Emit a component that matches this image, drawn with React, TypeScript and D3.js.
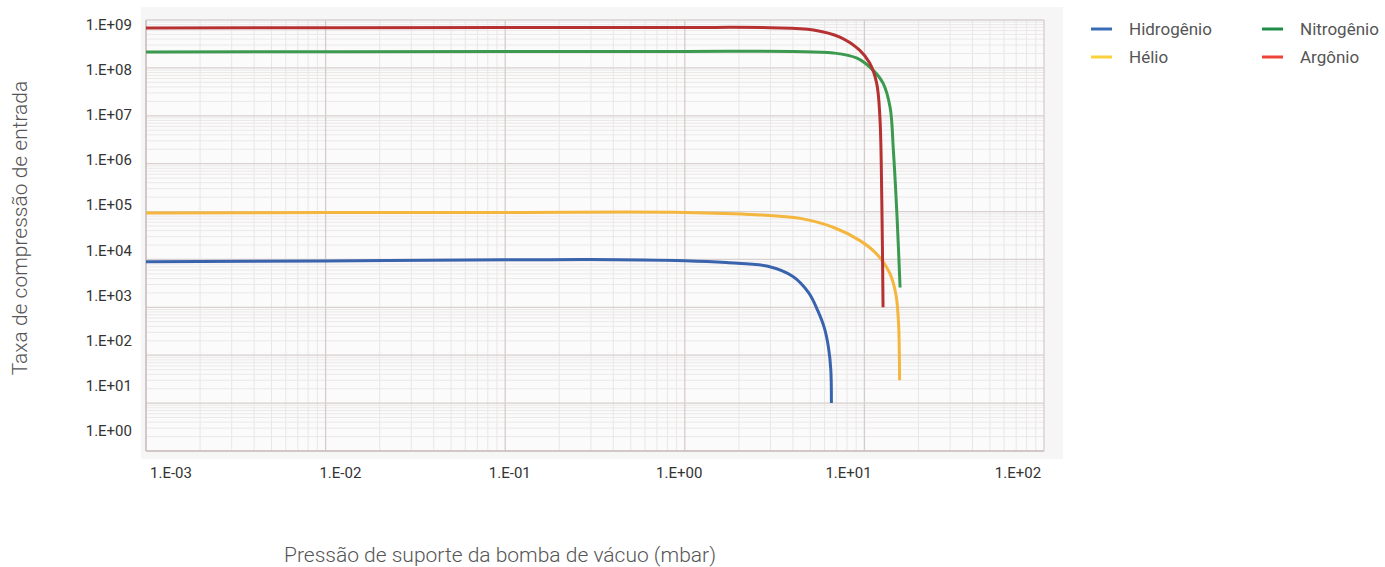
import React from "react";
import * as d3 from "d3";

const W = 1385;
const H = 567;

const xTickLabels = ["1.E-03", "1.E-02", "1.E-01", "1.E+00", "1.E+01", "1.E+02"];
const yTickLabels = ["1.E+00", "1.E+01", "1.E+02", "1.E+03", "1.E+04", "1.E+05", "1.E+06", "1.E+07", "1.E+08", "1.E+09"];

const seriesNames = ["Hidrogênio", "Hélio", "Nitrogênio", "Argônio"];
const lineColors = ["#3a63ad", "#f4b63e", "#3b9a4f", "#b63131"];
const legendColors = ["#3a6cb6", "#fbd23c", "#1f8c48", "#ee4438"];

const h2P = [0.001, 0.01, 0.1, 0.3, 1, 1.7, 2.9, 4.0, 4.9, 5.5, 6.0, 6.3, 6.5, 6.55];
const h2V = [9.0e3, 9.3e3, 9.8e3, 1.0e4, 9.4e3, 8.6e3, 7.2e3, 4.4e3, 2.0e3, 8.5e2, 3.6e2, 1.5e2, 50, 10];

const heP = [0.001, 0.01, 0.1, 1, 2.5, 4.4, 6.7, 9.4, 11.7, 13.9, 15.0, 15.5, 15.65, 15.7];
const heV = [9.3e4, 9.5e4, 9.6e4, 9.6e4, 8.6e4, 7.2e4, 4.7e4, 2.5e4, 1.3e4, 5e3, 1.8e3, 4.5e2, 1.0e2, 30];

const n2P = [0.001, 0.1, 1, 4, 6.7, 9.1, 11.2, 12.7, 13.9, 14.5, 15.2, 15.8];
const n2V = [2.15e8, 2.2e8, 2.2e8, 2.2e8, 2.05e8, 1.6e8, 8.9e7, 4.8e7, 1.5e7, 1.9e6, 7.6e4, 2.6e3];

const arP = [0.001, 0.1, 1, 3, 5.2, 7.3, 9.4, 10.7, 11.7, 12.2, 12.5, 12.7];
const arV = [6.8e8, 7.0e8, 7.0e8, 6.9e8, 6.2e8, 4.4e8, 2.35e8, 1.26e8, 4.8e7, 9.3e6, 1.7e5, 1e3];

const seriesP = [h2P, heP, n2P, arP];
const seriesV = [h2V, heV, n2V, arV];

const plot = { left: 146, right: 1044, top: 20, bottom: 451 };

export default function App() {
  const x = d3.scaleLog().domain([1e-3, 1e2]).range([plot.left, plot.right]);
  const y = d3.scaleLog().domain([1, 1e9]).range([plot.bottom, plot.top]);
  const xLab = d3.scalePoint<string>().domain(xTickLabels).range([171, 1018]);
  const yLab = d3.scalePoint<string>().domain(yTickLabels).range([431, 25]);

  const minorX: number[] = [];
  for (let e = -3; e < 2; e++) for (let m = 2; m <= 9; m++) minorX.push(m * Math.pow(10, e));
  const minorY: number[] = [];
  for (let e = 0; e < 9; e++) for (let m = 2; m <= 9; m++) minorY.push(m * Math.pow(10, e));
  const majorX = d3.range(-3, 3).map((e) => Math.pow(10, e));
  const majorY = d3.range(0, 10).map((e) => Math.pow(10, e));

  const line = d3
    .line<[number, number]>()
    .x((d) => x(d[0]))
    .y((d) => y(d[1]))
    .curve(d3.curveCatmullRom.alpha(0.5));

  const font = "Roboto, 'Noto Sans', sans-serif";

  return (
    <svg width={W} height={H} style={{ position: "absolute", left: 0, top: 0, background: "#fff" }}>
      <rect x={141} y={7} width={922} height={452} fill="#f6f6f6" />
      <rect x={plot.left} y={plot.top} width={plot.right - plot.left} height={plot.bottom - plot.top} fill="#fbfbfb" />
      {minorX.map((v, i) => (
        <line key={"mx" + i} x1={x(v)} x2={x(v)} y1={plot.top} y2={plot.bottom} stroke="#e9e6e6" strokeWidth={1} />
      ))}
      {minorY.map((v, i) => (
        <line key={"my" + i} x1={plot.left} x2={plot.right} y1={y(v)} y2={y(v)} stroke="#ebe8e8" strokeWidth={1} />
      ))}
      {majorX.map((v, i) => (
        <line key={"Mx" + i} x1={x(v)} x2={x(v)} y1={plot.top} y2={plot.bottom} stroke="#d6cccc" strokeWidth={1.3} />
      ))}
      {majorY.map((v, i) => (
        <line key={"My" + i} x1={plot.left} x2={plot.right} y1={y(v)} y2={y(v)} stroke="#d8cfcf" strokeWidth={1.3} />
      ))}
      <line x1={plot.left} x2={plot.left} y1={plot.top} y2={plot.bottom} stroke="#cbc1c1" strokeWidth={1.5} />
      <line x1={plot.left} x2={plot.right} y1={plot.bottom} y2={plot.bottom} stroke="#cbc1c1" strokeWidth={1.5} />

      {seriesP.map((ps, si) => (
        <path
          key={"s" + si}
          d={line(ps.map((p, i) => [p, seriesV[si][i]] as [number, number])) || ""}
          fill="none"
          stroke={lineColors[si]}
          strokeWidth={3}
          strokeLinejoin="round"
        />
      ))}

      {xTickLabels.map((t) => (
        <text key={t} x={xLab(t)} y={478} textAnchor="middle" fontFamily={font} fontSize={15} fill="#333">
          {t}
        </text>
      ))}
      {yTickLabels.map((t) => (
        <text key={t} x={132} y={(yLab(t) as number) + 5} textAnchor="end" fontFamily={font} fontSize={15} fill="#333">
          {t}
        </text>
      ))}

      <text x={500} y={562} textAnchor="middle" fontFamily={font} fontWeight={300} fontSize={21} fill="#555">
        Pressão de suporte da bomba de vácuo (mbar)
      </text>
      <text
        transform="translate(27,228) rotate(-90)"
        textAnchor="middle"
        fontFamily={font}
        fontWeight={300}
        fontSize={21}
        fill="#555"
      >
        Taxa de compressão de entrada
      </text>

      {seriesNames.map((n, i) => {
        const col = i === 0 || i === 1 ? 0 : 1;
        const row = i === 0 || i === 2 ? 0 : 1;
        const lx = col === 0 ? 1091 : 1262;
        const ly = row === 0 ? 29 : 57;
        return (
          <g key={n}>
            <line x1={lx} x2={lx + 21} y1={ly} y2={ly} stroke={legendColors[i]} strokeWidth={3} />
            <text x={lx + 38} y={ly + 6} fontFamily={font} fontSize={17} fill="#555">
              {n}
            </text>
          </g>
        );
      })}
    </svg>
  );
}
